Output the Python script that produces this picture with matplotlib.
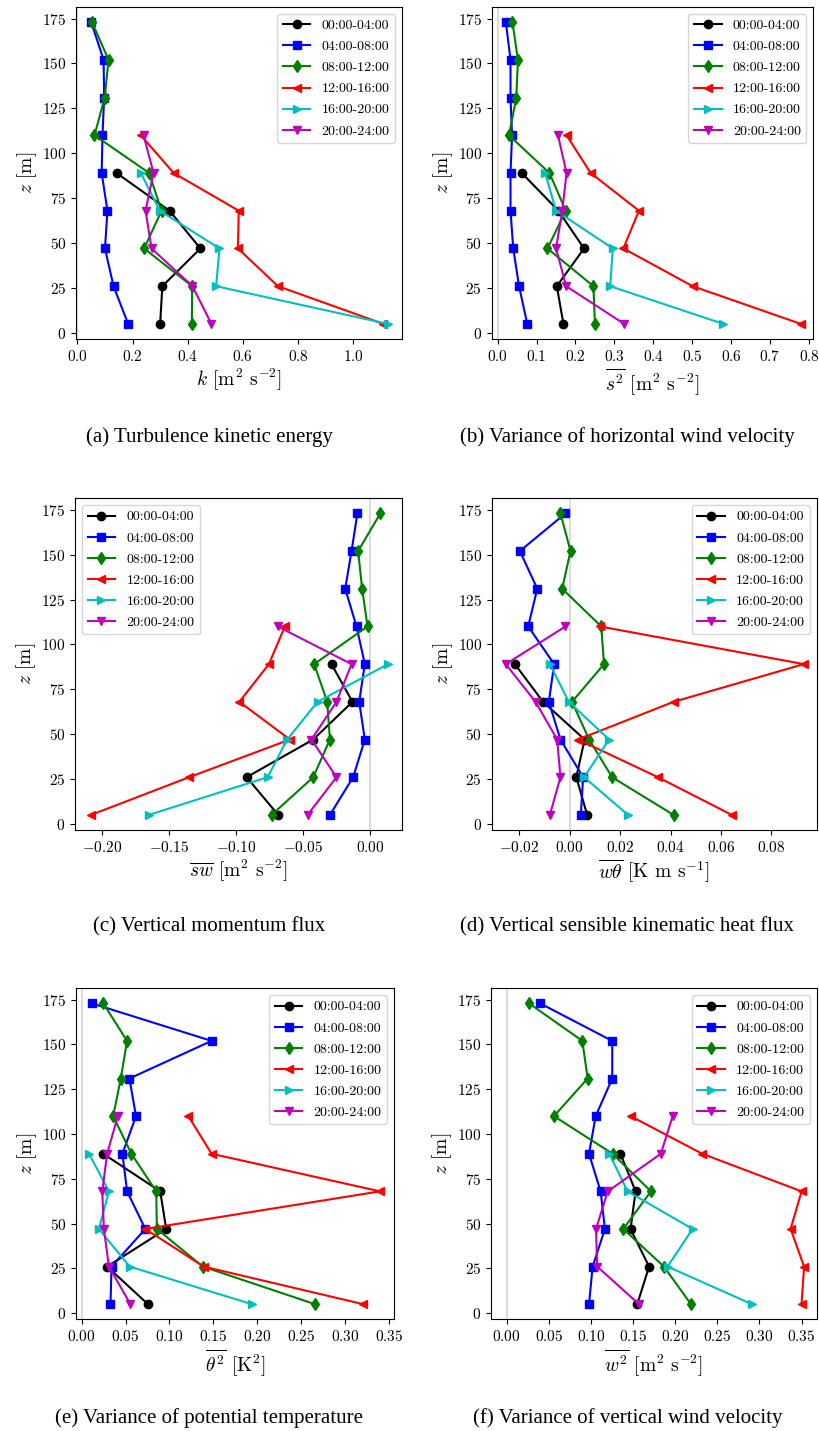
import matplotlib
matplotlib.use("Agg")
import matplotlib.pyplot as plt
from matplotlib.ticker import MultipleLocator

plt.rcParams["font.family"] = "serif"
plt.rcParams["font.serif"] = ["cmr10", "DejaVu Serif"]
plt.rcParams["mathtext.fontset"] = "cm"
plt.rcParams["axes.formatter.use_mathtext"] = True
plt.rcParams["axes.unicode_minus"] = True

# measurement heights [m]
z = [5, 26, 47, 68, 89, 110, 131, 152, 173]

periods = ["00:00-04:00", "04:00-08:00", "08:00-12:00",
           "12:00-16:00", "16:00-20:00", "20:00-24:00"]
colors = ["k", "b", "g", "r", "c", "m"]
markers = ["o", "s", "d", "<", ">", "v"]

# turbulence kinetic energy k
tke_00 = [0.300, 0.308, 0.446, 0.334, 0.142]
tke_04 = [0.184, 0.131, 0.100, 0.109, 0.088, 0.091, 0.097, 0.095, 0.050]
tke_08 = [0.415, 0.416, 0.242, 0.305, 0.260, 0.062, 0.099, 0.113, 0.053]
tke_12 = [1.109, 0.727, 0.582, 0.585, 0.349, 0.230]
tke_16 = [1.125, 0.503, 0.515, 0.299, 0.230]
tke_20 = [0.486, 0.417, 0.269, 0.247, 0.276, 0.240]

# variance of horizontal wind speed
ss_00 = [0.169, 0.152, 0.222, 0.156, 0.062]
ss_04 = [0.076, 0.055, 0.040, 0.033, 0.033, 0.037, 0.033, 0.033, 0.021]
ss_08 = [0.250, 0.246, 0.128, 0.175, 0.133, 0.029, 0.048, 0.052, 0.038]
ss_12 = [0.779, 0.501, 0.323, 0.363, 0.239, 0.177]
ss_16 = [0.580, 0.289, 0.296, 0.150, 0.122]
ss_20 = [0.325, 0.176, 0.150, 0.166, 0.177, 0.155]

# vertical momentum flux
sw_00 = [-0.0687, -0.0922, -0.0426, -0.0134, -0.0290]
sw_04 = [-0.0302, -0.0129, -0.0042, -0.0084, -0.0042, -0.0104, -0.0188, -0.0141, -0.0097]
sw_08 = [-0.0736, -0.0426, -0.0302, -0.0322, -0.0419, -0.0022, -0.0062, -0.0092, 0.0074]
sw_12 = [-0.208, -0.135, -0.060, -0.0976, -0.0756, -0.0637]
sw_16 = [-0.165, -0.0766, -0.062, -0.0394, 0.0131]
sw_20 = [-0.0468, -0.0253, -0.0439, -0.0253, -0.0141, -0.0691]

# kinematic sensible heat flux
wt_00 = [0.0069, 0.0026, 0.0059, -0.0106, -0.0218]
wt_04 = [0.0044, 0.0053, -0.0037, -0.0083, -0.0062, -0.0165, -0.0129, -0.0198, -0.0017]
wt_08 = [0.0412, 0.0168, 0.0077, 0.0009, 0.0136, 0.0125, -0.0030, 0.0003, -0.0037]
wt_12 = [0.0643, 0.0350, 0.0033, 0.0412, 0.0929, 0.0119]
wt_16 = [0.0231, 0.0057, 0.0156, -0.0004, -0.0079]
wt_20 = [-0.0079, -0.0037, -0.0050, -0.0136, -0.0254, -0.0017]

# variance of potential temperature
tt_00 = [0.0755, 0.0290, 0.0963, 0.0895, 0.0245]
tt_04 = [0.0328, 0.0340, 0.0725, 0.0517, 0.0464, 0.0619, 0.0544, 0.148, 0.0113]
tt_08 = [0.266, 0.138, 0.0857, 0.0849, 0.0566, 0.0359, 0.0445, 0.0517, 0.0245]
tt_12 = [0.321, 0.139, 0.0725, 0.340, 0.148, 0.1216]
tt_16 = [0.194, 0.0547, 0.0196, 0.0310, 0.0083]
tt_20 = [0.0555, 0.0310, 0.0253, 0.0234, 0.0290, 0.0411]

# variance of vertical wind speed
ww_00 = [0.155, 0.169, 0.147, 0.153, 0.135]
ww_04 = [0.0977, 0.102, 0.1166, 0.1115, 0.0977, 0.1056, 0.1253, 0.1253, 0.0395]
ww_08 = [0.2187, 0.1866, 0.1384, 0.1712, 0.1257, 0.0561, 0.0961, 0.0898, 0.0265]
ww_12 = [0.350, 0.353, 0.337, 0.350, 0.232, 0.147]
ww_16 = [0.291, 0.191, 0.2206, 0.1435, 0.1218]
ww_20 = [0.157, 0.1075, 0.106, 0.120, 0.183, 0.197]

panels = [
    ([tke_00, tke_04, tke_08, tke_12, tke_16, tke_20],
     r"$k$ [m$^2$ s$^{-2}$]", "(a) Turbulence kinetic energy"),
    ([ss_00, ss_04, ss_08, ss_12, ss_16, ss_20],
     r"$\overline{s^2}$ [m$^2$ s$^{-2}$]", "(b) Variance of horizontal wind velocity"),
    ([sw_00, sw_04, sw_08, sw_12, sw_16, sw_20],
     r"$\overline{sw}$ [m$^2$ s$^{-2}$]", "(c) Vertical momentum flux"),
    ([wt_00, wt_04, wt_08, wt_12, wt_16, wt_20],
     r"$\overline{w\theta}$ [K m s$^{-1}$]", "(d) Vertical sensible kinematic heat flux"),
    ([tt_00, tt_04, tt_08, tt_12, tt_16, tt_20],
     r"$\overline{\theta^2}$ [K$^2$]", "(e) Variance of potential temperature"),
    ([ww_00, ww_04, ww_08, ww_12, ww_16, ww_20],
     r"$\overline{w^2}$ [m$^2$ s$^{-2}$]", "(f) Variance of vertical wind velocity"),
]

xlims = [(-0.005, 1.177), (-0.0154, 0.811), (-0.2199, 0.0235),
         (-0.031, 0.0980), (-0.0065, 0.356), (-0.0186, 0.368)]
xsteps = [0.2, 0.1, 0.05, 0.02, 0.05, 0.05]

# axes boxes in figure fractions: left, bottom, width, height
boxes = [
    (0.0927, 0.7631, 0.3976, 0.2320),
    (0.5996, 0.7631, 0.3922, 0.2320),
    (0.0915, 0.4200, 0.3988, 0.2318),
    (0.5996, 0.4200, 0.3963, 0.2318),
    (0.0927, 0.0781, 0.3878, 0.2313),
    (0.5988, 0.0781, 0.3972, 0.2313),
]
caption_y = [0.6946, 0.6946, 0.3522, 0.3522, 0.0091, 0.0091]
caption_x = [0.255, 0.765]

fig = plt.figure(figsize=(8.2, 14.31), dpi=100)

for i, (series, xlabel, caption) in enumerate(panels):
    ax = fig.add_axes(boxes[i])
    for vals, lab, c, m in zip(series, periods, colors, markers):
        ax.plot(vals, z[:len(vals)], color=c, marker=m, label=lab,
                lw=1.5, ms=6)
    ax.axvline(0, color="lightgray", lw=1.2, zorder=0)
    ax.set_xlim(*xlims[i])
    ax.xaxis.set_major_locator(MultipleLocator(xsteps[i]))
    ax.set_yticks([0, 25, 50, 75, 100, 125, 150, 175])
    ax.tick_params(labelsize=11)
    ax.set_xlabel(xlabel, fontsize=14, labelpad=2)
    ax.set_ylabel(r"$z$ [m]", fontsize=14, labelpad=2)
    ax.legend(loc="upper left" if i == 2 else "upper right", fontsize=10,
              handlelength=2.0, labelspacing=0.6, borderaxespad=0.5)
    fig.text(caption_x[i % 2], caption_y[i], caption, ha="center", va="center",
             fontsize=15, family="Liberation Serif")

fig.savefig("out.png", dpi=100)
